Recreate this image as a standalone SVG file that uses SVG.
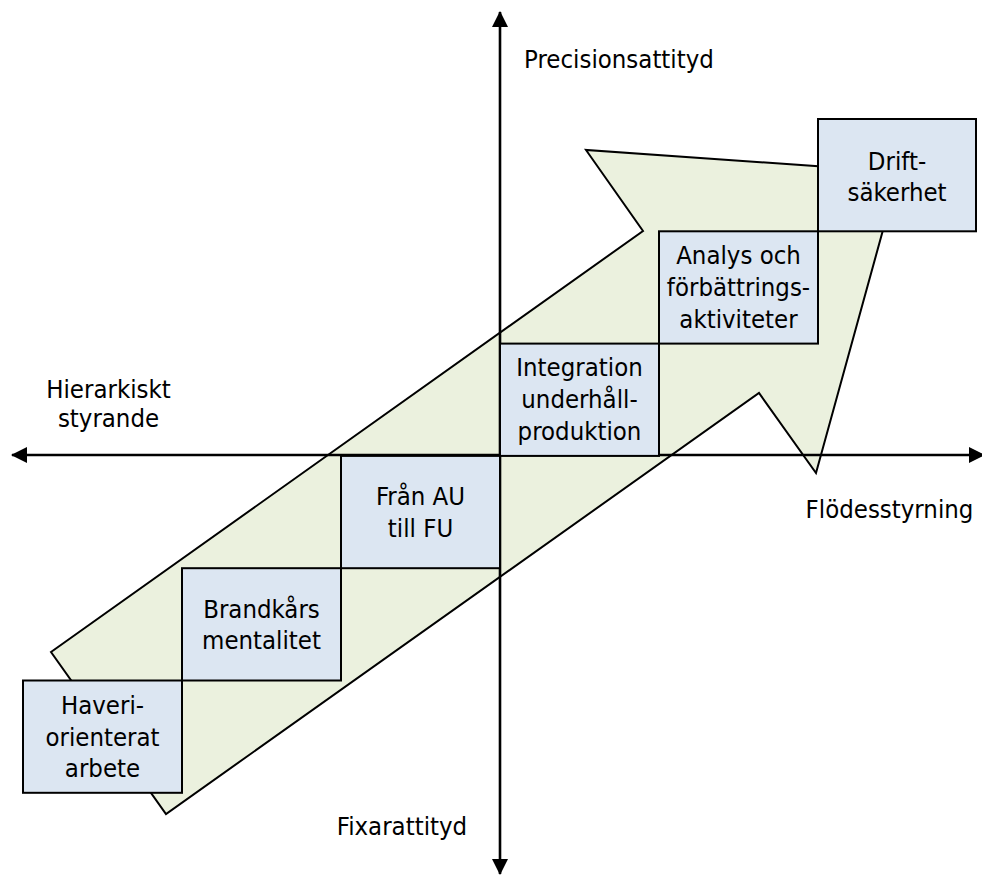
<svg xmlns="http://www.w3.org/2000/svg" width="982" height="876" viewBox="0 0 982 876">
  <style>
    .axis { stroke: #000; stroke-width: 2.6; fill: none; }
    .box { fill: #DCE6F2; stroke: #000; stroke-width: 2; }
    .flow { fill: #EBF1DE; stroke: #000; stroke-width: 2; stroke-linejoin: miter; }
    text { font-family: "DejaVu Sans Condensed", "DejaVu Sans", sans-serif; font-size: 25.5px; fill: #000; }
    .c { text-anchor: middle; }
  </style>
  <defs>
    <marker id="head" markerUnits="userSpaceOnUse" markerWidth="16" markerHeight="16" viewBox="0 0 16 16" refX="15" refY="8" orient="auto-start-reverse">
      <path d="M0,0 L16,8 L0,16 Z" fill="#000"/>
    </marker>
  </defs>

  <!-- big progression arrow behind the steps -->
  <g id="progress-arrow">
    <polygon class="flow" points="51,652 643,231 586,150 899,172 816,473 759,393 166,814"/>
  </g>

  <!-- quadrant axes, arrowheads at both ends -->
  <g id="connectors">
    <line class="axis" x1="500" y1="12" x2="500" y2="874" marker-start="url(#head)" marker-end="url(#head)"/>
    <line class="axis" x1="12" y1="455" x2="984" y2="455" marker-start="url(#head)" marker-end="url(#head)"/>
  </g>

  <!-- axis labels -->
  <g id="axis-labels">
    <text class="c" x="619" y="68">Precisionsattityd</text>
    <text class="c" x="108.5" y="398">Hierarkiskt</text>
    <text class="c" x="108.5" y="427">styrande</text>
    <text class="c" x="889.5" y="518">Flödesstyrning</text>
    <text class="c" x="402" y="835">Fixarattityd</text>
  </g>

  <!-- step boxes -->
  <g id="step-haveri">
    <rect class="box" x="23" y="680.5" width="159" height="112.3"/>
    <text class="c" x="102.5" y="714">Haveri-</text>
    <text class="c" x="102.5" y="745.5">orienterat</text>
    <text class="c" x="102.5" y="777">arbete</text>
  </g>
  <g id="step-brandkar">
    <rect class="box" x="182" y="568.2" width="159" height="112.3"/>
    <text class="c" x="261.5" y="617.5">Brandkårs</text>
    <text class="c" x="261.5" y="649">mentalitet</text>
  </g>
  <g id="step-au-fu">
    <rect class="box" x="341" y="455.9" width="159" height="112.3"/>
    <text class="c" x="420.5" y="505">Från AU</text>
    <text class="c" x="420.5" y="536.5">till FU</text>
  </g>
  <g id="step-integration">
    <rect class="box" x="500" y="343.6" width="159" height="112.3"/>
    <text class="c" x="579.5" y="376">Integration</text>
    <text class="c" x="579.5" y="408">underhåll-</text>
    <text class="c" x="579.5" y="440">produktion</text>
  </g>
  <g id="step-analys">
    <rect class="box" x="659" y="231.3" width="159" height="112.3"/>
    <text class="c" x="738.5" y="264">Analys och</text>
    <text class="c" x="738.5" y="296">förbättrings-</text>
    <text class="c" x="738.5" y="328">aktiviteter</text>
  </g>
  <g id="step-drift">
    <rect class="box" x="818" y="119" width="158" height="112.3"/>
    <text class="c" x="897" y="170">Drift-</text>
    <text class="c" x="897" y="201">säkerhet</text>
  </g>
</svg>
